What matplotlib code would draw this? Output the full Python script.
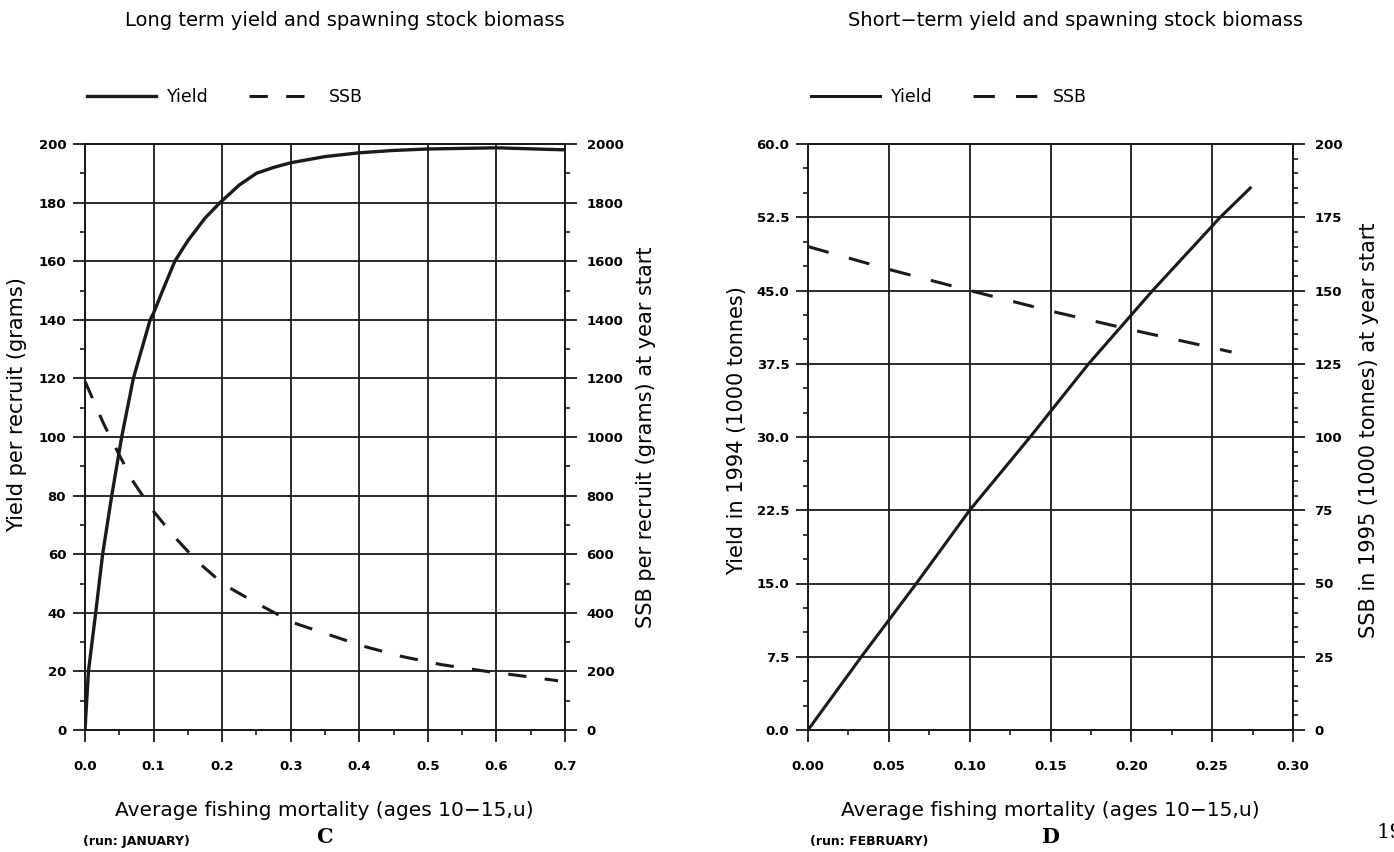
import matplotlib.pyplot as plt
from matplotlib.ticker import MultipleLocator, FormatStrFormatter

# Long term: yield and SSB per recruit against average F
f_ypr = [0, 0.005, 0.0156, 0.0257, 0.039, 0.0535, 0.0705, 0.095, 0.1, 0.115,
         0.131, 0.15, 0.175, 0.197, 0.225, 0.25, 0.275, 0.3, 0.35, 0.4, 0.45,
         0.5, 0.6, 0.7]
ypr = [0, 20, 40, 60, 80, 100, 120, 140, 142.3, 151,
       160, 167, 174.7, 180, 186, 190, 192, 193.6, 195.7, 197, 197.8,
       198.3, 198.7, 198]
f_spr = [0, 0.027, 0.049, 0.0705, 0.097, 0.129, 0.163, 0.202, 0.253, 0.304,
         0.347, 0.406, 0.462, 0.52, 0.58, 0.642, 0.69]
spr = [1190, 1046, 943, 847, 755, 663, 577, 497, 429, 366,
       332, 286, 251, 223, 202, 183, 168]

# Short term: yield in 1994 and SSB in 1995 (1000 tonnes)
f_yield94 = [0, 0.033, 0.067, 0.1, 0.1374, 0.1736, 0.2132, 0.255, 0.2736]
yield94 = [0, 7.5, 15, 22.5, 30, 37.5, 45, 52.5, 55.5]
f_ssb95 = [0, 0.05, 0.1, 0.15, 0.2, 0.25, 0.262]
ssb95 = [165, 157.2, 150, 143, 136.6, 130.5, 129]

W, H = 1394, 852
fig = plt.figure(figsize=(W / 100, H / 100), dpi=100)
ink = '#1a1a1a'


def px(x, y):
    return x / W, 1 - y / H


def frame(ax, ax2, xmaj, xmin, ymaj, ymin, y2maj, y2min, xfmt, yfmt):
    ax.xaxis.set_major_locator(MultipleLocator(xmaj))
    ax.xaxis.set_minor_locator(MultipleLocator(xmin))
    ax.yaxis.set_major_locator(MultipleLocator(ymaj))
    ax.yaxis.set_minor_locator(MultipleLocator(ymin))
    ax2.yaxis.set_major_locator(MultipleLocator(y2maj))
    ax2.yaxis.set_minor_locator(MultipleLocator(y2min))
    ax.xaxis.set_major_formatter(FormatStrFormatter(xfmt))
    ax.yaxis.set_major_formatter(FormatStrFormatter(yfmt))
    ax2.yaxis.set_major_formatter(FormatStrFormatter('%d'))
    ax.grid(True, which='major', color=ink, lw=1.3)
    for a in (ax, ax2):
        for s in a.spines.values():
            s.set_linewidth(1.3)
            s.set_color(ink)
        a.tick_params(which='major', direction='out', length=8.5, width=1.3,
                      color=ink, labelsize=9.5)
        a.tick_params(which='minor', direction='out', length=3.5, width=1.2,
                      color=ink)
    ax.tick_params(axis='x', pad=13)
    ax.tick_params(axis='y', pad=5)
    ax2.tick_params(axis='y', pad=7)
    for lab in ax.get_xticklabels() + ax.get_yticklabels() + ax2.get_yticklabels():
        lab.set_fontweight('bold')


# left panel
axL = fig.add_axes([85 / W, 1 - 730 / H, 480 / W, 586 / H])
axL2 = axL.twinx()
axL.set_xlim(0, 0.7)
axL.set_ylim(0, 200)
axL2.set_ylim(0, 2000)
frame(axL, axL2, 0.1, 0.05, 20, 10, 200, 100, '%.1f', '%d')
l1, = axL.plot(f_ypr, ypr, color=ink, lw=2.4, solid_joinstyle='round')
l2, = axL2.plot(f_spr, spr, color=ink, lw=2.2, dashes=(6, 6))

# right panel
axR = fig.add_axes([808 / W, 1 - 730 / H, 485 / W, 586 / H])
axR2 = axR.twinx()
axR.set_xlim(0, 0.3)
axR.set_ylim(0, 60)
axR2.set_ylim(0, 200)
frame(axR, axR2, 0.05, 0.025, 7.5, 2.5, 25, 5, '%.2f', '%.1f')
r1, = axR.plot(f_yield94, yield94, color=ink, lw=2.2)
r2, = axR2.plot(f_ssb95, ssb95, color=ink, lw=2.2, dashes=(7, 6.9))

# titles, legends and labels
fig.text(*px(345, 20), 'Long term yield and spawning stock biomass',
         ha='center', va='center', fontsize=14)
fig.text(*px(1076, 20), 'Short\u2212term yield and spawning stock biomass',
         ha='center', va='center', fontsize=14)

for handles, x0 in (((l1, l2), 87), ((r1, r2), 811)):
    fig.legend(handles, ['Yield', 'SSB'], loc='center left',
               bbox_to_anchor=px(x0, 97), frameon=False, ncol=2,
               fontsize=12.5, handlelength=4.0, handletextpad=0.6,
               columnspacing=2.3, borderpad=0, borderaxespad=0)

fig.text(*px(17, 405), 'Yield per recruit (grams)', rotation=90,
         ha='center', va='center', fontsize=15)
fig.text(*px(646, 437), 'SSB per recruit (grams) at year start', rotation=90,
         ha='center', va='center', fontsize=15)
fig.text(*px(737, 431), 'Yield in 1994 (1000 tonnes)', rotation=90,
         ha='center', va='center', fontsize=15)
fig.text(*px(1369, 430), 'SSB in 1995 (1000 tonnes) at year start', rotation=90,
         ha='center', va='center', fontsize=15)

for xc, x0, run, tag in ((324, 83, 'JANUARY', 'C'), (1050, 810, 'FEBRUARY', 'D')):
    fig.text(*px(xc, 810), 'Average fishing mortality (ages 10\u221215,u)',
             ha='center', va='center', fontsize=14.5)
    fig.text(*px(x0, 842), '(run: %s)' % run, ha='left', va='center',
             fontsize=9, fontweight='bold')
    fig.text(*px(xc, 837), tag, ha='center', va='center', fontsize=15,
             fontweight='bold', family='DejaVu Serif')

# page number, cut by the right edge of the page
fig.text(*px(1376, 833), '19', ha='left', va='center', fontsize=15,
         family='DejaVu Serif')

fig.savefig('out.png', dpi=100)
